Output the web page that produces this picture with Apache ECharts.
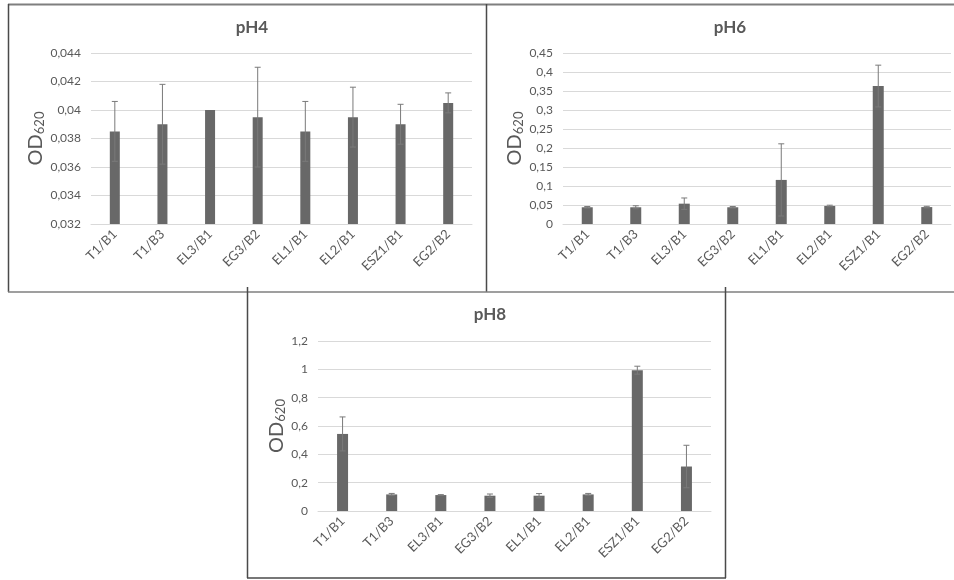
<!DOCTYPE html>
<html>
<head>
<meta charset="utf-8">
<title>OD620 by pH</title>
<script src="https://cdn.jsdelivr.net/npm/echarts@6/dist/echarts.min.js"></script>
<style>
  html, body { margin: 0; padding: 0; background: #ffffff; }
  #chart { width: 954px; height: 580px; }
</style>
</head>
<body>
<div id="chart"></div>
<script>
// Strains on the x axis (same order in every panel)
const categories = ['T1/B1', 'T1/B3', 'EL3/B1', 'EG3/B2', 'EL1/B1', 'EL2/B1', 'ESZ1/B1', 'EG2/B2'];

// Mean OD620 and its standard deviation, per pH
const ph4Values = [0.0385, 0.0390, 0.0400, 0.0395, 0.0385, 0.0395, 0.0390, 0.0405];
const ph4Errors = [0.0021, 0.0028, 0.0000, 0.0035, 0.0021, 0.0021, 0.0014, 0.0007];

const ph6Values = [0.044, 0.044, 0.0535, 0.044, 0.116, 0.0475, 0.363, 0.0445];
const ph6Errors = [0.002, 0.004, 0.0150, 0.002, 0.095, 0.0020, 0.055, 0.0020];

const ph8Values = [0.544, 0.117, 0.1125, 0.108, 0.108, 0.117, 0.994, 0.314];
const ph8Errors = [0.120, 0.007, 0.0030, 0.012, 0.015, 0.007, 0.028, 0.150];

// Value-axis ranges: [min, max, interval]
const ph4Axis = [0.032, 0.044, 0.002];
const ph6Axis = [0, 0.45, 0.05];
const ph8Axis = [0, 1.2, 0.2];

const panelTitles = ['pH4', 'pH6', 'pH8'];

const FONT = 'Lato, "DejaVu Sans", sans-serif';
const TEXT = '#595959';
const BAR = '#686868';
const ERR = '#7a7a7a';
const GRIDLINE = '#d9d9d9';

const chart = echarts.init(document.getElementById('chart'));

function decimalComma(v) {
  return String(parseFloat(v.toFixed(4))).replace('.', ',');
}

const grids = [
  { left: 91, right: 482, top: 53, bottom: 356 },
  { left: 563, right: 3, top: 53, bottom: 356 },
  { left: 318, right: 243, top: 341, bottom: 69 }
];
const axes = [ph4Axis, ph6Axis, ph8Axis];
const nameGaps = [40, 35, 22];
const valueSets = [ph4Values, ph6Values, ph8Values];
const errorSets = [ph4Errors, ph6Errors, ph8Errors];

const xAxes = grids.map((g, i) => ({
  type: 'category',
  gridIndex: i,
  data: categories,
  axisLine: { lineStyle: { color: GRIDLINE, width: 1 } },
  axisTick: { show: false },
  axisLabel: {
    rotate: 45, margin: 8, color: TEXT, fontSize: 13, fontFamily: FONT, interval: 0
  }
}));

const yAxes = grids.map((g, i) => ({
  type: 'value',
  gridIndex: i,
  min: axes[i][0],
  max: axes[i][1],
  interval: axes[i][2],
  name: '{a|OD}{b|620}',
  nameLocation: 'middle',
  nameGap: nameGaps[i],
  nameRotate: 90,
  nameTextStyle: {
    color: TEXT,
    fontFamily: FONT,
    rich: {
      a: { fontSize: 20, color: TEXT, fontFamily: FONT },
      b: { fontSize: 13, color: TEXT, fontFamily: FONT, padding: [9, 0, 0, 0] }
    }
  },
  axisLine: { show: false },
  axisTick: { show: false },
  splitLine: { lineStyle: { color: GRIDLINE, width: 1 } },
  axisLabel: {
    color: TEXT, fontSize: 12, fontFamily: FONT, margin: 10,
    formatter: decimalComma
  }
}));

const barWidths = [10, 11, 11];

const series = [];
valueSets.forEach((vals, i) => {
  series.push({
    type: 'bar',
    xAxisIndex: i,
    yAxisIndex: i,
    data: vals,
    barWidth: barWidths[i],
    itemStyle: { color: BAR },
    silent: true
  });
  series.push({
    type: 'custom',
    xAxisIndex: i,
    yAxisIndex: i,
    data: vals.map((v, k) => [k, v, errorSets[i][k]]),
    encode: { x: 0, y: 1 },
    z: 3,
    silent: true,
    renderItem: function (params, api) {
      const k = api.value(0);
      const v = api.value(1);
      const e = api.value(2);
      if (!e) return null;
      const hi = api.coord([k, v + e]);
      const lo = api.coord([k, v - e]);
      const cap = 3;
      const style = { stroke: ERR, lineWidth: 1 };
      return {
        type: 'group',
        children: [
          { type: 'line', shape: { x1: hi[0], y1: hi[1], x2: lo[0], y2: lo[1] }, style: style },
          { type: 'line', shape: { x1: hi[0] - cap, y1: hi[1], x2: hi[0] + cap, y2: hi[1] }, style: style },
          { type: 'line', shape: { x1: lo[0] - cap, y1: lo[1], x2: lo[0] + cap, y2: lo[1] }, style: style }
        ]
      };
    }
  });
});

const titleCenters = [[247, 14], [725, 14], [485, 301]];
const titles = panelTitles.map((t, i) => ({
  text: t,
  left: titleCenters[i][0],
  top: titleCenters[i][1],
  textAlign: 'center',
  textStyle: { color: TEXT, fontSize: 17, fontWeight: 'bold', fontFamily: FONT }
}));

// Panel frames
const frame = { stroke: '#4a4a4a', lineWidth: 1.5 };
const graphic = [
  { type: 'line', shape: { x1: 8, y1: 4.5, x2: 954, y2: 4.5 }, style: { stroke: '#7f7f7f', lineWidth: 2 } },
  { type: 'line', shape: { x1: 8.5, y1: 4, x2: 8.5, y2: 292 }, style: frame },
  { type: 'line', shape: { x1: 486.5, y1: 4, x2: 486.5, y2: 292 }, style: frame },
  { type: 'line', shape: { x1: 8, y1: 292, x2: 954, y2: 292 }, style: { stroke: '#7f7f7f', lineWidth: 1.5 } },
  { type: 'line', shape: { x1: 247.5, y1: 287, x2: 247.5, y2: 578 }, style: frame },
  { type: 'line', shape: { x1: 725.5, y1: 287, x2: 725.5, y2: 578 }, style: frame },
  { type: 'line', shape: { x1: 247, y1: 578, x2: 726, y2: 578 }, style: frame }
];

chart.setOption({
  backgroundColor: '#ffffff',
  animation: false,
  title: titles,
  grid: grids,
  xAxis: xAxes,
  yAxis: yAxes,
  series: series,
  graphic: graphic
});
</script>
</body>
</html>
